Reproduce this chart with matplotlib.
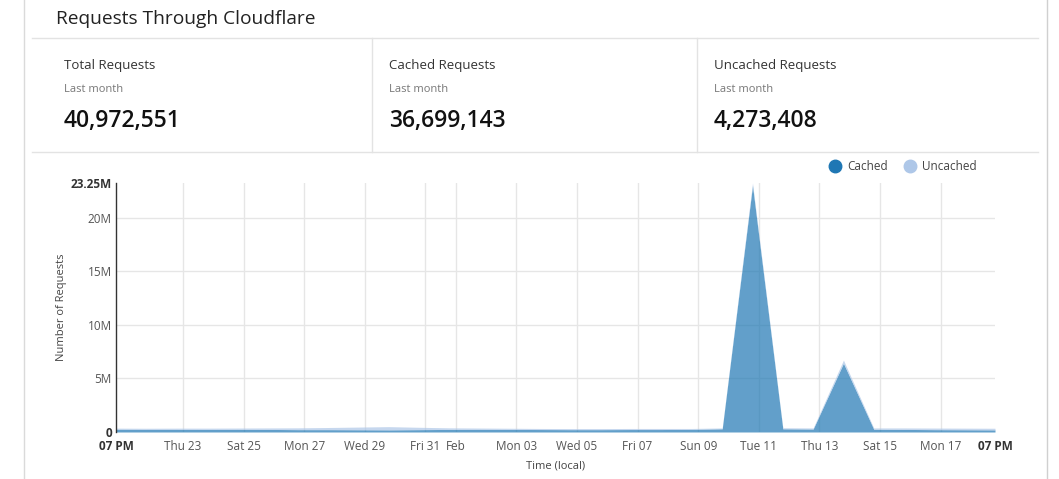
import matplotlib.pyplot as plt
import matplotlib.dates as mdates
from matplotlib.lines import Line2D
import pandas as pd

plt.rcParams["font.family"] = ["Open Sans", "DejaVu Sans"]

# daily points at 7 PM local time, Jan 20 -> Feb 18 2025
days = pd.date_range("2025-01-20 19:00", periods=30, freq="D")

# requests in millions
cached = [0.26, 0.25, 0.25, 0.24, 0.25, 0.24, 0.22, 0.22, 0.21, 0.20,
          0.22, 0.24, 0.25, 0.24, 0.23, 0.22, 0.22, 0.23, 0.23, 0.25,
          0.30, 23.02, 0.30, 0.28, 6.42, 0.26, 0.24, 0.22, 0.21, 0.20]
uncached = [0.10, 0.10, 0.11, 0.12, 0.12, 0.14, 0.17, 0.20, 0.25, 0.30,
            0.22, 0.15, 0.12, 0.11, 0.10, 0.10, 0.10, 0.10, 0.10, 0.08,
            0.08, 0.23, 0.10, 0.10, 0.30, 0.12, 0.14, 0.15, 0.15, 0.15]

stat_names = ["Total Requests", "Cached Requests", "Uncached Requests"]
stat_values = ["40,972,551", "36,699,143", "4,273,408"]

tick_dates = ["2025-01-20 19:00", "2025-01-23", "2025-01-25", "2025-01-27",
              "2025-01-29", "2025-01-31", "2025-02-01", "2025-02-03",
              "2025-02-05", "2025-02-07", "2025-02-09", "2025-02-11",
              "2025-02-13", "2025-02-15", "2025-02-17", "2025-02-18 19:00"]
tick_labels = ["07 PM", "Thu 23", "Sat 25", "Mon 27", "Wed 29", "Fri 31", "Feb",
               "Mon 03", "Wed 05", "Fri 07", "Sun 09", "Tue 11", "Thu 13",
               "Sat 15", "Mon 17", "07 PM"]
y_ticks = [0, 5, 10, 15, 20, 23.25]
y_labels = ["0", "5M", "10M", "15M", "20M", "23.25M"]

W, H = 1059, 479
fig = plt.figure(figsize=(W / 100, H / 100), dpi=100)


def fx(px):
    return px / W


def fy(py):
    return 1 - py / H


# card borders and separators
border = "#e3e3e3"
fig.add_artist(Line2D([fx(23.5), fx(23.5)], [0, 1], color="#dadada", lw=1))
fig.add_artist(Line2D([fx(1047), fx(1047)], [0, 1], color="#d0d0d0", lw=1))
fig.add_artist(Line2D([fx(32), fx(1038)], [fy(38), fy(38)], color=border, lw=1))
fig.add_artist(Line2D([fx(32), fx(1038)], [fy(152), fy(152)], color=border, lw=1))
for sx in (372, 697):
    fig.add_artist(Line2D([fx(sx), fx(sx)], [fy(38), fy(152)], color=border, lw=1))

fig.text(fx(56), fy(19), "Requests Through Cloudflare", fontsize=13.8,
         color="#222222", va="center", ha="left")

for i, (name, val) in enumerate(zip(stat_names, stat_values)):
    x0 = [64, 389, 714][i]
    fig.text(fx(x0), fy(66), name, fontsize=9.5, color="#333333", va="center")
    fig.text(fx(x0), fy(89), "Last month", fontsize=8, color="#777777", va="center")
    fig.text(fx(x0), fy(121), val, fontsize=16.5, color="#111111", va="center",
             fontweight="semibold")

ax = fig.add_axes([fx(116), fy(432), fx(995) - fx(116), fy(183) - fy(432)])

total = [c + u for c, u in zip(cached, uncached)]
ax.fill_between(days, 0, cached, color="#1f77b4", alpha=0.7, lw=0, zorder=3)
ax.fill_between(days, cached, total, color="#aec7e8", alpha=0.7, lw=0, zorder=3)

ticks = [mdates.date2num(pd.Timestamp(t)) for t in tick_dates]
ax.set_xlim(ticks[0], ticks[-1])
ax.set_ylim(0, 23.25)
ax.set_xticks(ticks)
ax.set_xticklabels(tick_labels)
ax.set_yticks(y_ticks)
ax.set_yticklabels(y_labels)
ax.tick_params(length=0, labelsize=8.5, labelcolor="#555555")
ax.tick_params(axis="x", pad=6)
ax.tick_params(axis="y", pad=3)
for lbl in (ax.get_xticklabels()[0], ax.get_xticklabels()[-1],
            ax.get_yticklabels()[0], ax.get_yticklabels()[-1]):
    lbl.set_fontweight("bold")
    lbl.set_color("#333333")

for t in ticks[1:-1]:
    ax.axvline(t, color="#e6e6e6", lw=1, zorder=1)
for yv in y_ticks[1:-1]:
    ax.axhline(yv, color="#e6e6e6", lw=1, zorder=1)

for side in ("top", "right", "bottom"):
    ax.spines[side].set_visible(False)
ax.spines["left"].set_color("#333333")
ax.spines["left"].set_linewidth(1)
ax.spines["left"].set_zorder(5)

ax.set_ylabel("Number of Requests", fontsize=8, color="#444444", labelpad=3)
ax.set_xlabel("Time (local)", fontsize=8, color="#444444", labelpad=5)

handles = [
    Line2D([], [], marker="o", ls="", markersize=9, color="#1f77b4"),
    Line2D([], [], marker="o", ls="", markersize=9, color="#aec7e8"),
]
fig.legend(handles, ["Cached", "Uncached"], loc="center", ncol=2,
           bbox_to_anchor=(fx(900), fy(167)), frameon=False, fontsize=8.5,
           handletextpad=0.0, columnspacing=0.9, labelcolor="#444444")

fig.savefig("out.png", dpi=100, facecolor="white")
